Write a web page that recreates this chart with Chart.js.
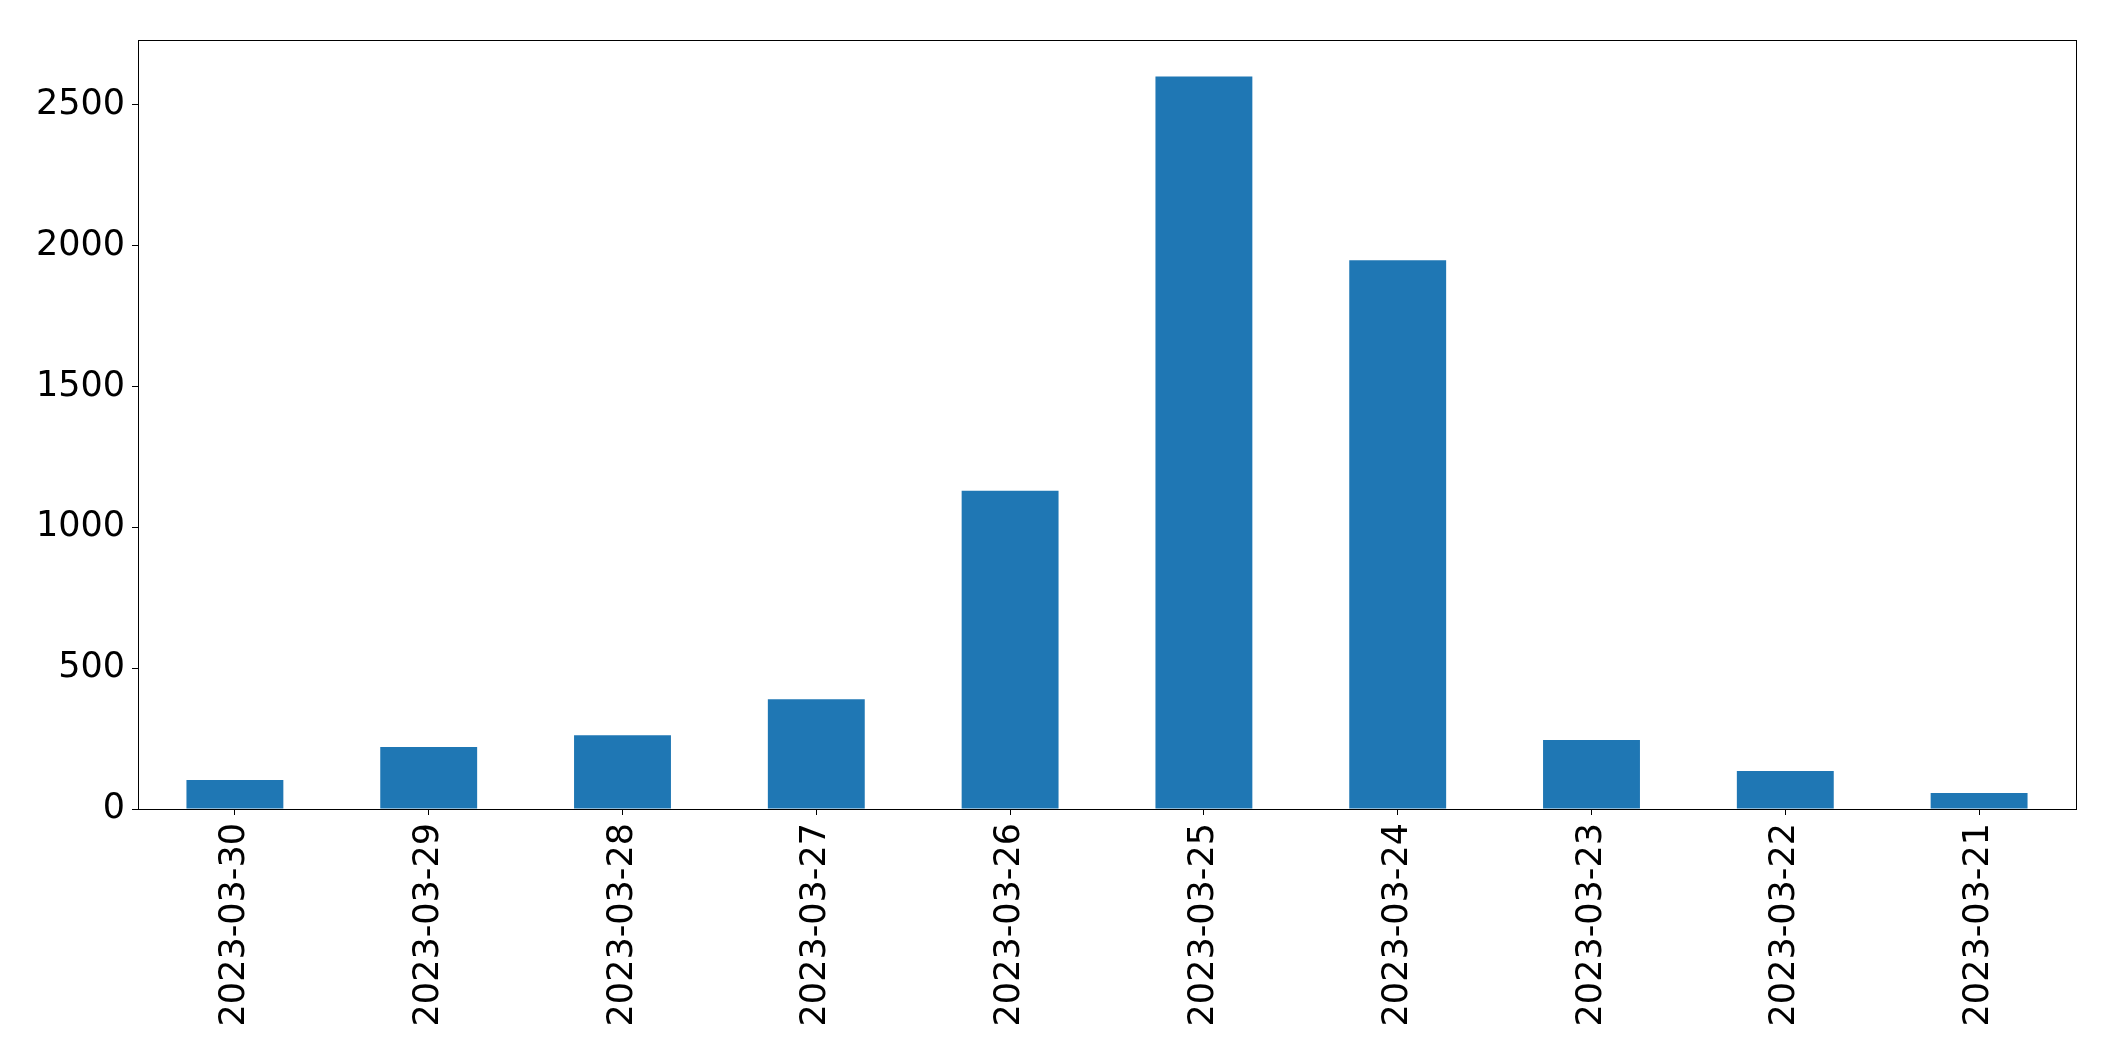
<!DOCTYPE html>
<html>
<head>
<meta charset="utf-8">
<script src="https://cdn.jsdelivr.net/npm/chart.js@4/dist/chart.umd.min.js"></script>
<style>
  body { margin: 0; background: #fff; }
  #chart { display: block; }
</style>
</head>
<body>
<canvas id="chart" width="2115" height="1061"></canvas>
<script>
// dates, newest first, as in the picture
var dates = ["2023-03-30", "2023-03-29", "2023-03-28", "2023-03-27", "2023-03-26",
             "2023-03-25", "2023-03-24", "2023-03-23", "2023-03-22", "2023-03-21"];
var counts = [103, 220, 262, 390, 1130, 2600, 1948, 245, 135, 57];
var yTicks = [0, 500, 1000, 1500, 2000, 2500];
var yMax = 2730;

// matplotlib like frame: close the box on top and right
var boxPlugin = {
  id: "box",
  afterDraw: function(chart) {
    var a = chart.chartArea, ctx = chart.ctx;
    ctx.save();
    ctx.strokeStyle = "#000";
    ctx.lineWidth = 1;
    ctx.strokeRect(Math.round(a.left) + 0.5, Math.round(a.top) + 0.5,
                   Math.round(a.right - a.left), Math.round(a.bottom - a.top));
    ctx.restore();
  }
};

var ctx = document.getElementById("chart").getContext("2d");
var chart = new Chart(ctx, {
  type: "bar",
  data: {
    labels: dates,
    datasets: [{
      data: counts,
      backgroundColor: "#1f77b4",
      borderWidth: 0,
      barPercentage: 0.5,
      categoryPercentage: 1.0
    }]
  },
  options: {
    responsive: false,
    devicePixelRatio: 1,
    animation: false,
    layout: { padding: { top: 40, right: 39, left: 0, bottom: 0 } },
    plugins: { legend: { display: false }, tooltip: { enabled: false } },
    scales: {
      x: {
        grid: { drawOnChartArea: false, offset: false, tickLength: 6, color: "#000" },
        border: { color: "#000", width: 1 },
        ticks: {
          color: "#000",
          font: { family: "DejaVu Sans", size: 35 },
          minRotation: 90,
          maxRotation: 90,
          padding: 8,
          autoSkip: false
        },
        afterFit: function(scale) { scale.height = 252; }
      },
      y: {
        min: 0,
        max: yMax,
        grid: { drawOnChartArea: false, tickLength: 6, color: "#000" },
        border: { color: "#000", width: 1 },
        ticks: {
          color: "#000",
          font: { family: "DejaVu Sans", size: 35 },
          padding: 7,
          callback: function(v) { return String(v); }
        },
        afterBuildTicks: function(scale) {
          scale.ticks = yTicks.map(function(v) { return { value: v }; });
        },
        afterFit: function(scale) { scale.width = 138; }
      }
    }
  },
  plugins: [boxPlugin]
});
</script>
</body>
</html>
